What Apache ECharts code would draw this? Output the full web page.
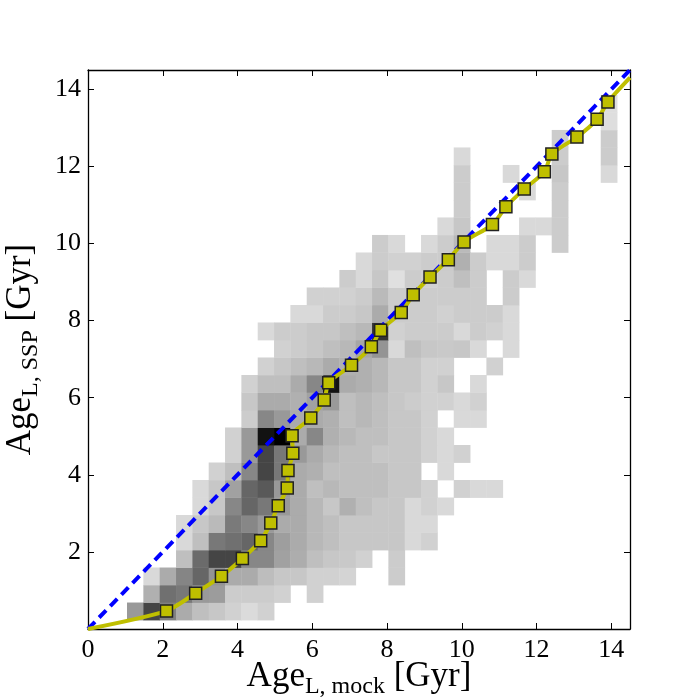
<!DOCTYPE html>
<html>
<head>
<meta charset="utf-8">
<script src="https://cdn.jsdelivr.net/npm/echarts@6/dist/echarts.min.js"></script>
<style>
html, body { margin: 0; background: #fff; }
#main { width: 700px; height: 700px; }
</style>
</head>
<body>
<div id="main"></div>
<script>
// histogram bins (Gyr)
var xBinStart = 0.17, xBinWidth = 0.437;
var yBinStart = 0.233, yBinHeight = 0.454;

// first filled column of each row (bottom row first) and the darkness of its cells, 0 = empty
var rowStart = [2, 3, 3, 5, 5, 5, 6, 6, 7, 8, 8, 9, 9, 9, 10, 11, 10, 12, 13, 15, 16, 17, 21, 22, 22, 22, 22, 28, 31, 31];
var rowDensity = [
    [40, 73, 50, 33, 25, 22, 18, 14, 18],
    [31, 56, 53, 40, 39, 20, 20, 20, 18, 0, 18],
    [15, 33, 48, 60, 42, 33, 33, 26, 22, 22, 18, 18, 17, 0, 0, 20],
    [25, 58, 73, 73, 47, 47, 37, 32, 25, 22, 21, 18, 0, 20],
    [15, 25, 53, 56, 60, 47, 38, 33, 28, 25, 22, 22, 22, 22, 15, 18],
    [15, 22, 27, 52, 47, 40, 33, 33, 28, 25, 22, 22, 22, 22, 15, 15],
    [15, 22, 47, 60, 53, 40, 33, 28, 22, 31, 25, 22, 22, 15, 18, 15],
    [15, 22, 37, 60, 65, 40, 33, 25, 28, 25, 25, 25, 22, 22, 18, 0, 18, 15, 15],
    [18, 25, 47, 73, 53, 33, 31, 25, 25, 25, 25, 22, 22, 0, 15],
    [18, 40, 73, 53, 40, 33, 28, 25, 25, 22, 22, 22, 18, 15, 18],
    [18, 40, 93, 100, 33, 47, 31, 28, 25, 25, 22, 22, 18, 15],
    [20, 47, 40, 33, 33, 31, 25, 28, 25, 22, 22, 18, 0, 15, 15],
    [22, 33, 33, 31, 37, 40, 25, 28, 25, 22, 20, 18, 18, 15, 18],
    [18, 25, 25, 33, 47, 93, 33, 31, 28, 22, 22, 18, 22, 0, 15],
    [18, 22, 25, 28, 33, 31, 31, 28, 22, 22, 18, 18, 0, 0, 18],
    [18, 20, 22, 25, 28, 35, 42, 15, 25, 22, 21, 22, 15, 0, 15],
    [15, 20, 20, 22, 22, 25, 28, 80, 18, 20, 20, 20, 15, 20, 18, 15],
    [15, 15, 20, 20, 22, 33, 20, 20, 20, 18, 20, 20, 20, 15],
    [18, 18, 18, 20, 27, 20, 20, 20, 20, 20, 20, 0, 20],
    [20, 15, 22, 12, 20, 18, 20, 25, 20, 0, 20, 15],
    [15, 20, 18, 18, 20, 20, 31, 20, 15, 15, 20],
    [20, 15, 0, 15, 20, 27, 0, 15, 15, 20, 0, 20],
    [15, 22, 0, 0, 0, 15, 15, 20],
    [20, 0, 0, 0, 0, 0, 20],
    [20, 0, 0, 0, 15, 0, 20],
    [20, 0, 0, 15, 0, 0, 22, 0, 0, 15],
    [15, 0, 0, 0, 0, 0, 20, 0, 0, 20],
    [20, 0, 0, 20],
    [13],
    [13]
];

// median mock age in each SSP age bin
var medianX = [2.10, 2.88, 3.57, 4.13, 4.62, 4.89, 5.09, 5.33, 5.35, 5.48, 5.46, 5.96, 6.32, 6.44, 7.05,
    7.58, 7.83, 8.38, 8.70, 9.15, 9.64, 10.06, 10.82, 11.18, 11.67, 12.21, 12.41, 13.08, 13.62, 13.91];
var medianY = [0.47, 0.93, 1.37, 1.83, 2.29, 2.75, 3.20, 3.66, 4.11, 4.56, 5.01, 5.47, 5.94, 6.39, 6.84,
    7.32, 7.75, 8.21, 8.67, 9.13, 9.58, 10.04, 10.49, 10.95, 11.41, 11.86, 12.32, 12.76, 13.22, 13.67];
var fitStart = [0, 0];
var fitEnd = [14.5, 14.3];
var oneToOne = [0, 14.5];

var cells = [];
rowDensity.forEach(function (row, j) {
    row.forEach(function (d, i) {
        if (d > 0) {
            var k = rowStart[j] + i;
            var x0 = xBinStart + k * xBinWidth;
            var y0 = yBinStart + j * yBinHeight;
            cells.push([x0, x0 + xBinWidth, y0, y0 + yBinHeight, d]);
        }
    });
});

var medians = medianX.map(function (x, i) { return [x, medianY[i]]; });
var fitLine = [fitStart].concat(medians).concat([fitEnd]);

var serif = 'Liberation Serif';
var nameStyle = {
    color: '#000',
    fontFamily: serif,
    rich: {
        a: { fontFamily: serif, fontSize: 35, color: '#000', verticalAlign: 'bottom', padding: [0, 0, 5, 0] },
        b: { fontFamily: serif, fontSize: 24, color: '#000', verticalAlign: 'bottom' }
    }
};
var frame = { show: true, onZero: false, lineStyle: { color: '#000', width: 1.3 } };
var ticks = { show: true, inside: true, length: 6, lineStyle: { color: '#000', width: 1 } };

function axis(pos, extra) {
    var a = {
        type: 'value', min: 0, max: 14.5, interval: 2, position: pos,
        axisLine: frame, axisTick: ticks, splitLine: { show: false },
        axisLabel: { show: false }
    };
    return Object.assign(a, extra || {});
}

var chartDom = document.getElementById('main');
var myChart = echarts.init(chartDom);
var option;

option = {
    animation: false,
    grid: { left: 88, right: 70, top: 70, bottom: 71, containLabel: false, outerBoundsMode: 'none' },
    xAxis: [
        axis('bottom', {
            axisLabel: {
                margin: 8, fontFamily: serif, fontSize: 26, color: '#000',
                formatter: function (v) { return v % 2 === 0 ? v : ''; }
            },
            name: '{a|Age}{b|L, mock}{a| [Gyr]}',
            nameLocation: 'middle', nameGap: 30, nameMoveOverlap: false, nameTextStyle: nameStyle
        }),
        axis('top')
    ],
    yAxis: [
        axis('left', {
            axisLabel: {
                margin: 7, fontFamily: serif, fontSize: 26, color: '#000',
                formatter: function (v) { return (v > 0 && v % 2 === 0) ? v : ''; }
            },
            name: '{a|Age}{b|L, SSP}{a| [Gyr]}',
            nameLocation: 'middle', nameRotate: 90, nameGap: 45, nameMoveOverlap: false, nameTextStyle: nameStyle
        }),
        axis('right')
    ],
    visualMap: {
        show: false, type: 'continuous', min: 0, max: 100, dimension: 4, seriesIndex: 0,
        inRange: { color: ['#ffffff', '#000000'] }
    },
    series: [
        {
            type: 'custom',
            data: cells,
            encode: { x: [0, 1], y: [2, 3] },
            renderItem: function (params, api) {
                var p0 = api.coord([api.value(0), api.value(3)]);
                var p1 = api.coord([api.value(1), api.value(2)]);
                return {
                    type: 'rect',
                    shape: { x: p0[0], y: p0[1], width: p1[0] - p0[0] + 0.4, height: p1[1] - p0[1] + 0.4 },
                    style: { fill: api.visual('color') }
                };
            },
            z: 1
        },
        {
            type: 'line',
            data: oneToOne.map(function (v) { return [v, v]; }),
            showSymbol: false, symbol: 'none',
            lineStyle: { color: '#0000ff', width: 4, type: [10, 6] },
            z: 2
        },
        {
            type: 'line',
            data: fitLine,
            showSymbol: false, symbol: 'none', smooth: 0.25,
            lineStyle: { color: '#bfbf00', width: 4 },
            z: 3
        },
        {
            type: 'scatter',
            data: medians,
            symbol: 'rect', symbolSize: 12,
            itemStyle: { color: '#bfbf00', borderColor: '#222', borderWidth: 1.5, opacity: 1 },
            z: 4
        }
    ]
};

option && myChart.setOption(option);
</script>
</body>
</html>
